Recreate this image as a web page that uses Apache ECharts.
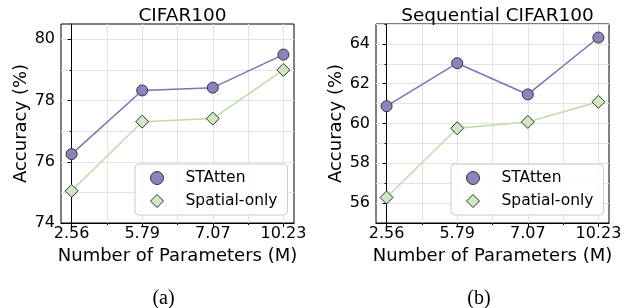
<!DOCTYPE html>
<html>
<head>
<meta charset="utf-8">
<script src="https://cdn.jsdelivr.net/npm/echarts@6/dist/echarts.min.js"></script>
<style>
html,body{margin:0;padding:0;background:#fff;}
#c{width:632px;height:308px;}
</style>
</head>
<body>
<div id="c"></div>
<script>
const categories = ['2.56', '5.79', '7.07', '10.23'];
const cifarSTAtten = [76.25, 78.33, 78.42, 79.5];
const cifarSpatial = [75.05, 77.31, 77.41, 79.0];
const seqSTAtten = [60.87, 63.03, 61.46, 64.32];
const seqSpatial = [56.28, 59.76, 60.08, 61.09];
const cifarMajorTicks = [74, 76, 78, 80];
const cifarMinorTicks = [75, 77, 79];
const seqMajorTicks = [56, 58, 60, 62, 64];
const seqMinorTicks = [55, 57, 59, 61, 63, 65];
const titles = ['CIFAR100', 'Sequential CIFAR100'];
const captions = ['(a)', '(b)'];

const FONT = 'DejaVu Sans';
const purpleFill = '#8a84bf', purpleLine = '#7b74b4';
const greenFill = '#cfe7c3', greenLine = '#bcdcaa';
const edge = '#333333';
const gridColor = '#e3e3e3';

const catIdx = categories.map((_, i) => i);
const catMinor = catIdx.slice(0, -1).map(i => i + 0.5);

const grids = [
  {left: 61, top: 24, width: 233, height: 199, show: true, borderColor: '#000', borderWidth: 1},
  {left: 376, top: 24, width: 233, height: 199, show: true, borderColor: '#000', borderWidth: 1}
];

function xAxes(g) {
  return [
    {
      type: 'value', gridIndex: g, min: -0.15, max: 3.15, position: 'bottom',
      axisLine: {show: true, lineStyle: {color: '#000', width: 1}},
      axisTick: {show: true, customValues: catIdx, length: 4, lineStyle: {color: '#000'}},
      axisLabel: {customValues: catIdx, formatter: v => categories[Math.round(v)], fontFamily: FONT, fontSize: 16, color: '#000', margin: 3},
      splitLine: {show: true, lineStyle: {color: gridColor, width: 1}},
      name: 'Number of Parameters (M)', nameLocation: 'middle', nameGap: 20,
      nameTextStyle: {fontFamily: FONT, fontSize: 18, color: '#000'}
    },
    {
      type: 'value', gridIndex: g, min: -0.15, max: 3.15, position: 'bottom', offset: 0,
      axisLine: {show: false},
      axisTick: {show: true, customValues: catMinor, length: 2, lineStyle: {color: '#000'}},
      axisLabel: {show: false, customValues: catMinor},
      splitLine: {show: true, lineStyle: {color: gridColor, width: 1}}
    }
  ];
}

function yAxes(g, min, max, major, minor) {
  return [
    {
      type: 'value', gridIndex: g, min: min, max: max, position: 'left',
      axisLine: {show: true, lineStyle: {color: '#000', width: 1}},
      axisTick: {show: true, customValues: major, length: 4, lineStyle: {color: '#000'}},
      axisLabel: {customValues: major, fontFamily: FONT, fontSize: 16, color: '#000', margin: 6},
      splitLine: {show: true, lineStyle: {color: gridColor, width: 1}},
      name: 'Accuracy (%)', nameLocation: 'middle', nameGap: 30,
      nameTextStyle: {fontFamily: FONT, fontSize: 18, color: '#000'}
    },
    {
      type: 'value', gridIndex: g, min: min, max: max, position: 'left', offset: 0,
      axisLine: {show: false},
      axisTick: {show: true, customValues: minor, length: 2, lineStyle: {color: '#000'}},
      axisLabel: {show: false, customValues: minor},
      splitLine: {show: true, lineStyle: {color: gridColor, width: 1}}
    }
  ];
}

function lineSeries(name, vals, xi, yi, symbol, size, fill, line) {
  return {
    type: 'line', name: name, xAxisIndex: xi, yAxisIndex: yi,
    data: vals.map((v, i) => [i, v]),
    symbol: symbol, symbolSize: size, showAllSymbol: true,
    lineStyle: {color: line, width: 1.5},
    itemStyle: {color: fill, borderColor: edge, borderWidth: 1},
    emphasis: {disabled: true}, z: 3
  };
}

function legend(left, top) {
  return {
    left: left, top: top, orient: 'vertical',
    backgroundColor: 'rgba(255,255,255,0.85)', borderColor: '#cccccc', borderWidth: 1, borderRadius: 4,
    padding: [5, 10, 5, 15], itemGap: 5, itemWidth: 13, itemHeight: 13,
    textStyle: {fontFamily: FONT, fontSize: 15.5, color: '#000', lineHeight: 18, padding: [0, 0, 0, 17]},
    selectedMode: false,
    data: [
      {name: 'STAtten', icon: 'circle', itemStyle: {color: purpleFill, borderColor: edge, borderWidth: 1}},
      {name: 'Spatial-only', icon: 'diamond', itemStyle: {color: greenFill, borderColor: edge, borderWidth: 1}}
    ]
  };
}

const chart = echarts.init(document.getElementById('c'), null, {renderer: 'canvas'});
chart.setOption({
  animation: false,
  backgroundColor: '#fff',
  title: [
    {text: titles[0], left: 177.5, top: 2, textAlign: 'center', textStyle: {fontFamily: FONT, fontSize: 18.5, fontWeight: 'normal', color: '#000'}},
    {text: titles[1], left: 492.5, top: 2, textAlign: 'center', textStyle: {fontFamily: FONT, fontSize: 18.5, fontWeight: 'normal', color: '#000'}},
    {text: captions[0], left: 158.5, top: 284, textAlign: 'center', textStyle: {fontFamily: 'Liberation Serif', fontSize: 20, fontWeight: 'normal', color: '#000'}},
    {text: captions[1], left: 474, top: 284, textAlign: 'center', textStyle: {fontFamily: 'Liberation Serif', fontSize: 20, fontWeight: 'normal', color: '#000'}}
  ],
  grid: grids,
  xAxis: [...xAxes(0), ...xAxes(1)],
  yAxis: [...yAxes(0, 74, 80.5, cifarMajorTicks, cifarMinorTicks), ...yAxes(1, 55, 65, seqMajorTicks, seqMinorTicks)],
  legend: [legend(135, 164), legend(451, 164)],
  series: [
    lineSeries('STAtten', cifarSTAtten, 0, 0, 'circle', 11, purpleFill, purpleLine),
    lineSeries('Spatial-only', cifarSpatial, 0, 0, 'diamond', 13, greenFill, greenLine),
    lineSeries('STAtten', seqSTAtten, 2, 2, 'circle', 11, purpleFill, purpleLine),
    lineSeries('Spatial-only', seqSpatial, 2, 2, 'diamond', 13, greenFill, greenLine)
  ]
});
</script>
</body>
</html>
